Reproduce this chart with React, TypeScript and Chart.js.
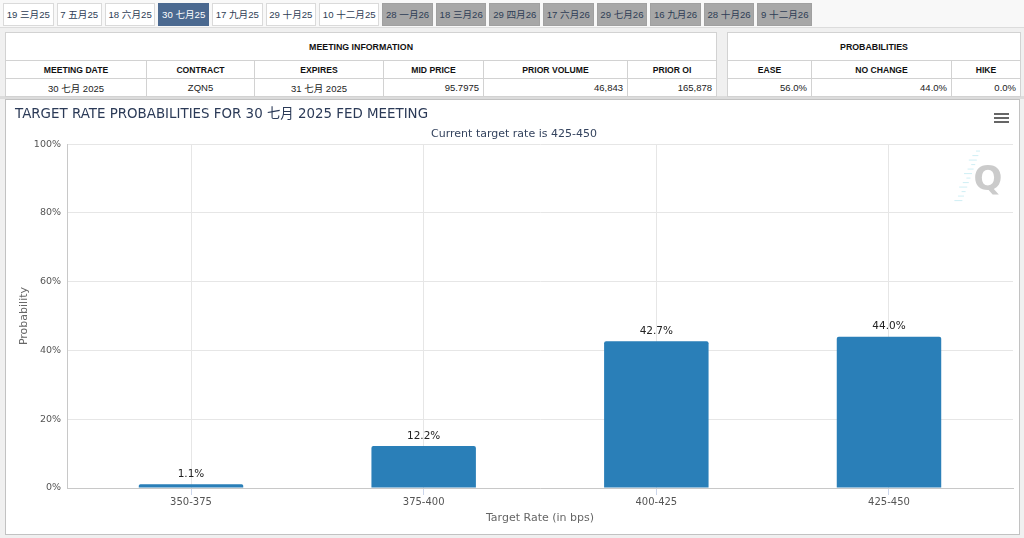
import React, { useEffect, useRef } from 'react';
import { Chart, registerables } from 'chart.js';

Chart.register(...registerables);

// ---------- data ----------
const TABS = [
  '19 三月25', '7 五月25', '18 六月25', '30 七月25', '17 九月25', '29 十月25', '10 十二月25',
  '28 一月26', '18 三月26', '29 四月26', '17 六月26', '29 七月26', '16 九月26', '28 十月26', '9 十二月26',
];
const ACTIVE_TAB = 3;
const FIRST_GREY_TAB = 7;

const MEETING_TITLE = 'MEETING INFORMATION';
const MEETING_HEADERS = ['MEETING DATE', 'CONTRACT', 'EXPIRES', 'MID PRICE', 'PRIOR VOLUME', 'PRIOR OI'];
const MEETING_VALUES = ['30 七月 2025', 'ZQN5', '31 七月 2025', '95.7975', '46,843', '165,878'];
const PROB_TITLE = 'PROBABILITIES';
const PROB_HEADERS = ['EASE', 'NO CHANGE', 'HIKE'];
const PROB_VALUES = ['56.0%', '44.0%', '0.0%'];

const CHART_TITLE = 'TARGET RATE PROBABILITIES FOR 30 七月 2025 FED MEETING';
const CHART_SUBTITLE = 'Current target rate is 425-450';
const X_TITLE = 'Target Rate (in bps)';
const Y_TITLE = 'Probability';
const CATEGORIES = ['350-375', '375-400', '400-425', '425-450'];
const PROBABILITIES = [1.1, 12.2, 42.7, 44.0];
const Y_MIN = 0;
const Y_MAX = 100;
const Y_STEP = 20;

// ---------- layout / style ----------
const MEETING_COL_W = [141, 108, 129, 100, 144, 89];
const MEETING_ALIGN = ['center', 'center', 'center', 'right', 'right', 'right'];
const PROB_COL_W = [84, 140, 69];

const UI_FONT = '"Liberation Sans", Arial, "Noto Sans CJK SC", sans-serif';
const CHART_FONT = '"DejaVu Sans", "Noto Sans CJK SC", sans-serif';
const BAR_COLOR = '#2a7fb8';

const valueLabels = {
  id: 'valueLabels',
  afterDatasetsDraw(chart: any) {
    const { ctx } = chart;
    const meta = chart.getDatasetMeta(0);
    ctx.save();
    ctx.font = `10.5px ${CHART_FONT}`;
    ctx.fillStyle = '#222';
    ctx.textAlign = 'center';
    ctx.textBaseline = 'middle';
    meta.data.forEach((el: any, i: number) => {
      ctx.fillText(PROBABILITIES[i].toFixed(1) + '%', el.x, el.y - 10);
    });
    ctx.restore();
  },
};

const watermark = {
  id: 'watermark',
  beforeDatasetsDraw(chart: any) {
    const { ctx, chartArea } = chart;
    const cx = chartArea.right - 25;
    const cy = chartArea.top + 37;
    ctx.save();
    ctx.strokeStyle = 'rgba(120, 210, 225, 0.35)';
    ctx.lineWidth = 1;
    for (let k = 0; k < 12; k++) {
      const yy = cy - 30 + k * 4.5;
      const xx = cx - 8 - k * 1.6;
      ctx.beginPath();
      ctx.moveTo(xx - 4 - (k % 3) * 2, yy);
      ctx.lineTo(xx, yy);
      ctx.stroke();
    }
    ctx.font = `bold 34px ${CHART_FONT}`;
    ctx.fillStyle = '#cbcbcb';
    ctx.textAlign = 'center';
    ctx.textBaseline = 'middle';
    ctx.fillText('Q', cx, cy);
    ctx.restore();
  },
};

function ChartPanel() {
  const ref = useRef<HTMLCanvasElement | null>(null);
  useEffect(() => {
    if (!ref.current) return;
    const chart = new Chart(ref.current, {
      type: 'bar',
      data: {
        datasets: [
          {
            data: PROBABILITIES.map((v, i) => ({ x: i, y: v })),
            backgroundColor: BAR_COLOR,
            borderWidth: 0,
            borderRadius: { topLeft: 2, topRight: 2, bottomLeft: 0, bottomRight: 0 },
            borderSkipped: 'bottom',
            categoryPercentage: 1,
            barPercentage: 0.449,
          } as any,
        ],
      },
      options: {
        animation: false,
        responsive: false,
        maintainAspectRatio: false,
        layout: { padding: { left: 9, right: 6, top: 0, bottom: 0 } },
        plugins: {
          legend: { display: false },
          tooltip: { enabled: false },
          title: {
            display: true,
            text: CHART_TITLE,
            align: 'start',
            color: '#2b3a57',
            font: { family: CHART_FONT, size: 13.4, weight: 'normal' },
            padding: { top: 6, bottom: 3 },
          },
          subtitle: {
            display: true,
            text: CHART_SUBTITLE,
            align: 'center',
            color: '#34435e',
            font: { family: CHART_FONT, size: 11, weight: 'normal' },
            padding: { top: 2.4, bottom: 3.4 },
          },
        },
        scales: {
          x: {
            type: 'linear',
            offset: false,
            bounds: 'data',
            min: -0.533,
            max: CATEGORIES.length - 1 + 0.533,
            afterBuildTicks: (s: any) => {
              s.ticks = CATEGORIES.map((_, i) => ({ value: i }));
            },
            afterFit: (s: any) => {
              s.height = 46;
            },
            ticks: {
              callback: (v: any) => CATEGORIES[v],
              color: '#555',
              font: { family: CHART_FONT, size: 10 },
              padding: 1.5,
              maxRotation: 0,
              autoSkip: false,
            },
            grid: { offset: false, color: '#e6e6e6', drawTicks: true, tickLength: 7, tickColor: '#ccd6eb' },
            border: { display: true, color: '#c8c8c8' },
            title: {
              display: true,
              text: X_TITLE,
              color: '#666',
              font: { family: CHART_FONT, size: 11 },
              padding: { top: 0, bottom: 9.4 },
            },
          },
          y: {
            min: Y_MIN,
            max: Y_MAX,
            afterFit: (s: any) => {
              s.width = 52;
            },
            ticks: {
              stepSize: Y_STEP,
              callback: (v: any) => v + '%',
              color: '#555',
              font: { family: CHART_FONT, size: 9.5 },
              padding: 6,
            },
            grid: { color: '#e6e6e6', drawTicks: false },
            border: { display: true, color: '#c8c8c8' },
            title: {
              display: true,
              text: Y_TITLE,
              color: '#666',
              font: { family: CHART_FONT, size: 11 },
              padding: { top: 2.4, bottom: 0 },
            },
          },
        },
      } as any,
      plugins: [valueLabels, watermark],
    });
    return () => chart.destroy();
  }, []);

  return (
    <div
      style={{
        position: 'absolute',
        left: 5,
        top: 99,
        width: 1013,
        height: 434,
        border: '1px solid #c2c2c2',
        background: '#fff',
      }}
    >
      <canvas ref={ref} width={1013} height={434} style={{ display: 'block', width: 1013, height: 434 }} />
      {[0, 1, 2].map((k) => (
        <div
          key={k}
          style={{
            position: 'absolute',
            left: 988,
            top: 12.5 + k * 4,
            width: 15,
            height: 2,
            background: '#666',
          }}
        />
      ))}
    </div>
  );
}

const cellBase: React.CSSProperties = {
  border: '1px solid #d2d2d2',
  padding: '0 4px',
  overflow: 'hidden',
  whiteSpace: 'nowrap',
};

function InfoTable(props: {
  left: number;
  title: string;
  headers: string[];
  values: string[];
  widths: number[];
  aligns: string[];
}) {
  const total = props.widths.reduce((a, b) => a + b, 0);
  return (
    <table
      style={{
        position: 'absolute',
        left: props.left,
        top: 32,
        width: total,
        borderCollapse: 'collapse',
        tableLayout: 'fixed',
        background: '#fff',
        fontFamily: UI_FONT,
        color: '#111',
        border: '1px solid #c6c6c6',
      }}
    >
      <colgroup>
        {props.widths.map((w, i) => (
          <col key={i} style={{ width: w }} />
        ))}
      </colgroup>
      <tbody>
        <tr style={{ height: 28 }}>
          <td colSpan={props.widths.length} style={{ ...cellBase, textAlign: 'center', fontWeight: 'bold', fontSize: 8.8 }}>
            {props.title}
          </td>
        </tr>
        <tr style={{ height: 18 }}>
          {props.headers.map((h, i) => (
            <td key={i} style={{ ...cellBase, textAlign: 'center', fontWeight: 'bold', fontSize: 8.6 }}>
              {h}
            </td>
          ))}
        </tr>
        <tr style={{ height: 18 }}>
          {props.values.map((v, i) => (
            <td key={i} style={{ ...cellBase, textAlign: props.aligns[i] as any, fontSize: 9.5, color: '#222' }}>
              {v}
            </td>
          ))}
        </tr>
      </tbody>
    </table>
  );
}

export default function App() {
  useEffect(() => {
    document.body.style.margin = '0';
  }, []);
  return (
    <div
      style={{
        position: 'fixed',
        left: 0,
        top: 0,
        width: 1024,
        height: 538,
        background: '#f0f0f0',
        overflow: 'hidden',
        fontFamily: UI_FONT,
      }}
    >
      <div
        style={{
          position: 'absolute',
          left: 0,
          top: 0,
          width: 1024,
          height: 27,
          background: '#f8f8f8',
          borderBottom: '1px solid #dcdcdc',
        }}
      />
      <div style={{ position: 'absolute', left: 3, top: 3, display: 'flex', gap: 3 }}>
        {TABS.map((t, i) => {
          const active = i === ACTIVE_TAB;
          const grey = i >= FIRST_GREY_TAB;
          return (
            <div
              key={i}
              style={{
                height: 21,
                lineHeight: '21px',
                padding: '0 2.7px',
                fontSize: 9.6,
                whiteSpace: 'nowrap',
                background: active ? '#4b6990' : grey ? '#a7a7a7' : '#fff',
                color: active ? '#fff' : '#2e3d55',
                border: active ? '1px solid #4b6990' : grey ? '1px solid #a0a0a0' : '1px solid #dadada',
              }}
            >
              {t}
            </div>
          );
        })}
      </div>
      <div style={{ position: 'absolute', left: 0, top: 96, width: 1024, height: 3, background: '#dcdcdc' }} />
      <InfoTable
        left={5}
        title={MEETING_TITLE}
        headers={MEETING_HEADERS}
        values={MEETING_VALUES}
        widths={MEETING_COL_W}
        aligns={MEETING_ALIGN}
      />
      <InfoTable
        left={727}
        title={PROB_TITLE}
        headers={PROB_HEADERS}
        values={PROB_VALUES}
        widths={PROB_COL_W}
        aligns={['right', 'right', 'right']}
      />
      <ChartPanel />
    </div>
  );
}
